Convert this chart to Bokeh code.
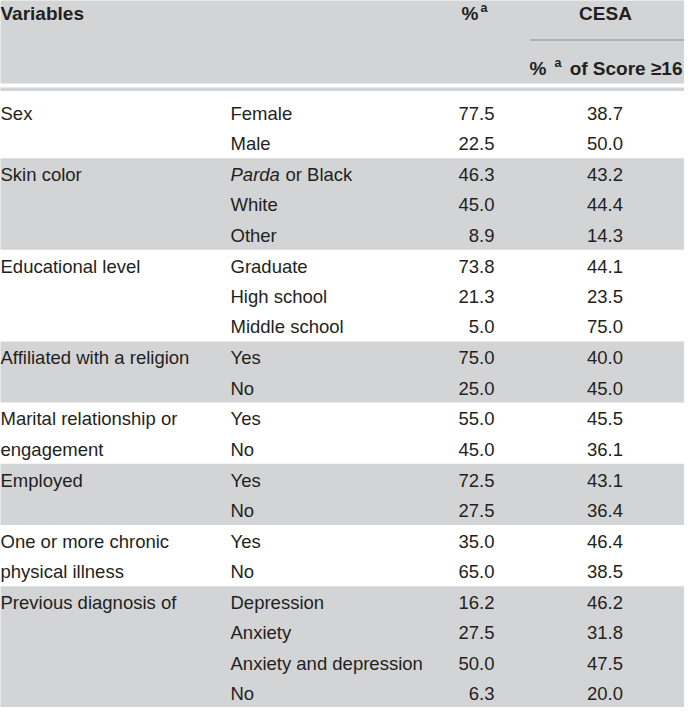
from bokeh.plotting import figure
from bokeh.models import Range1d, ColumnDataSource
from bokeh.core.properties import value
from bokeh.embed import file_html
from bokeh.resources import INLINE

# ---------------- data ----------------
groups = ["Sex", "Skin color", "Educational level", "Affiliated with a religion",
          "Marital relationship or\nengagement", "Employed",
          "One or more chronic\nphysical illness", "Previous diagnosis of"]
group_sizes = [2, 3, 3, 2, 2, 2, 2, 4]
categories = ["Female", "Male", "Parda or Black", "White", "Other",
              "Graduate", "High school", "Middle school", "Yes", "No",
              "Yes", "No", "Yes", "No", "Yes", "No",
              "Depression", "Anxiety", "Anxiety and depression", "No"]
pct = [77.5, 22.5, 46.3, 45.0, 8.9, 73.8, 21.3, 5.0, 75.0, 25.0,
       55.0, 45.0, 72.5, 27.5, 35.0, 65.0, 16.2, 27.5, 50.0, 6.3]
cesa = [38.7, 50.0, 43.2, 44.4, 14.3, 44.1, 23.5, 75.0, 40.0, 45.0,
        45.5, 36.1, 43.1, 36.4, 46.4, 38.5, 46.2, 31.8, 47.5, 20.0]
header_vars = "Variables"
header_pct = "%"
header_cesa = "CESA"
header_sub = "of Score \u226516"
sup = "a"

# ---------------- layout ----------------
FONT = value("Liberation Sans")
TXT = "#231f20"
BAND = "#d3d4d6"
LEFT, RIGHT = 7, 692
W, H = 684, 707
BODY = "18.5px"
HEAD = "19px"

p = figure(width=W, height=H, output_backend="svg", toolbar_location=None,
           x_range=Range1d(8, 8 + W), y_range=Range1d(8 + H, 8),
           min_border=0, x_axis_location=None, y_axis_location=None,
           outline_line_color=None, background_fill_color="white",
           border_fill_color="white")
p.grid.visible = False

# header band and rule
p.quad(left=[LEFT], right=[RIGHT], top=[7], bottom=[91], color=BAND, line_color=None)
p.quad(left=[LEFT], right=[RIGHT], top=[95], bottom=[98.5], color=BAND, line_color=None)
p.segment(x0=[538], x1=[RIGHT], y0=[47.5], y1=[47.5], line_color="#8f9093", line_width=1)

def txt(x, y, t, size=BODY, style="normal", align="left", baseline="middle"):
    p.text(x=x, y=y, text=t, text_font=FONT, text_font_size=size,
           text_font_style=style, text_color=TXT, text_align=align,
           text_baseline=baseline)

# header texts
txt([8], [21], [header_vars], size=HEAD, style="bold")
txt([486], [21], [header_pct], size=HEAD, style="bold", align="right")
txt([488], [15], [sup], size="12.5px", style="bold")
txt([613], [21], [header_cesa], size=HEAD, style="bold", align="center")
txt([537], [76], ["%"], size=HEAD, style="bold")
txt([562], [70], [sup], size="12.5px", style="bold")
txt([690], [76], [header_sub], size=HEAD, style="bold", align="right")

# body rows
ROW = 30.4
PAD = 0.4
y = 104.5
row_y = []
grp_x, grp_y, grp_t = [], [], []
for gi, (g, n) in enumerate(zip(groups, group_sizes)):
    top = y
    bottom = y + n * ROW + PAD
    if gi % 2 == 1:
        p.quad(left=[LEFT], right=[RIGHT], top=[top], bottom=[bottom], color=BAND, line_color=None)
    centers = [top + PAD / 2 + ROW * (i + 0.5) + 0.8 for i in range(n)]
    row_y.extend(centers)
    for li, line in enumerate(g.split("\n")):
        grp_x.append(8); grp_y.append(centers[li]); grp_t.append(line)
    y = bottom

txt(grp_x, grp_y, grp_t)

cx, cy, ct = [], [], []
for c, yy in zip(categories, row_y):
    if c.startswith("Parda"):
        txt([238], [yy], ["Parda"], style="italic")
        txt([293], [yy], [c[len("Parda"):].strip()])
    else:
        cx.append(238); cy.append(yy); ct.append(c)
txt(cx, cy, ct)

src = ColumnDataSource(dict(y=row_y, pct=[f"{v:.1f}" for v in pct],
                            cesa=[f"{v:.1f}" for v in cesa]))
p.text(x=502, y="y", text="pct", source=src, text_font=FONT, text_font_size=BODY,
       text_color=TXT, text_align="right", text_baseline="middle")
p.text(x=612.5, y="y", text="cesa", source=src, text_font=FONT, text_font_size=BODY,
       text_color=TXT, text_align="center", text_baseline="middle")

open("out.html", "w").write(file_html(p, INLINE))
